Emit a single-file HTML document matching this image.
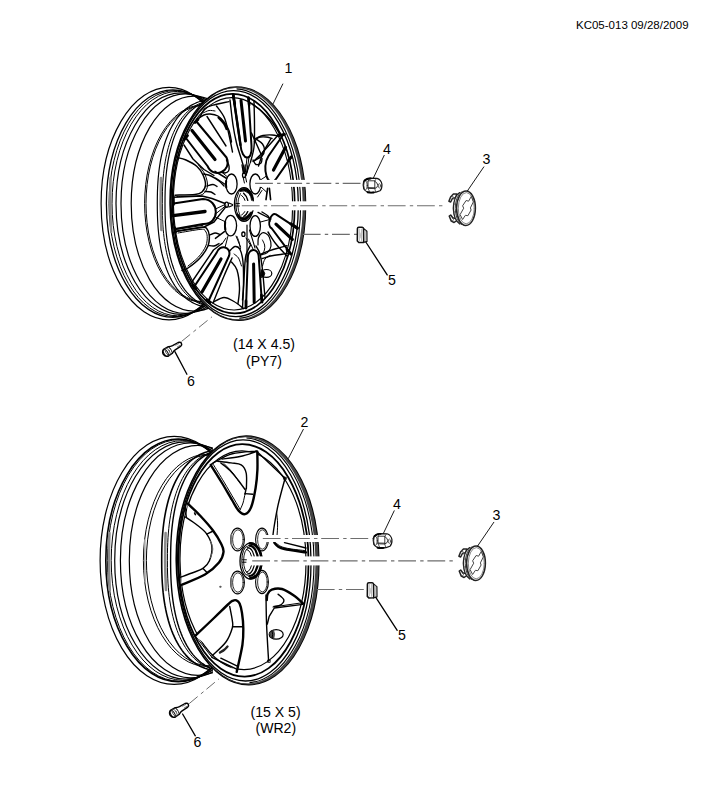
<!DOCTYPE html>
<html><head><meta charset="utf-8"><title>KC05-013</title>
<style>
html,body{margin:0;padding:0;background:#fff;}
body{width:708px;height:800px;overflow:hidden;font-family:"Liberation Sans",sans-serif;}
svg{display:block;}
svg text{font-family:"Liberation Sans",sans-serif;}
</style></head><body>
<svg width="708" height="800" viewBox="0 0 708 800" stroke-linecap="round" stroke-linejoin="round">
<rect x="0" y="0" width="708" height="800" fill="#fff"/>
<g id="wheel1">
<clipPath id="c1"><rect x="90" y="70" width="124" height="270"/></clipPath>
<g clip-path="url(#c1)">
<ellipse cx="169.02" cy="203.6" rx="67.92" ry="116.3" fill="none" stroke="#000" stroke-width="1.2" />
<ellipse cx="172.86" cy="203.6" rx="66.46" ry="113.8" fill="none" stroke="#000" stroke-width="1.3" />
<ellipse cx="174.99" cy="203.6" rx="65.99" ry="113" fill="none" stroke="#000" stroke-width="1" />
<ellipse cx="177.52" cy="203.6" rx="65.52" ry="112.2" fill="none" stroke="#000" stroke-width="1" />
<ellipse cx="180.71" cy="203.6" rx="64.71" ry="110.8" fill="none" stroke="#000" stroke-width="1.2" />
<ellipse cx="185.12" cy="203.6" rx="64.12" ry="109.8" fill="none" stroke="#000" stroke-width="1.2" />
<ellipse cx="193.98" cy="203.6" rx="62.78" ry="107.5" fill="none" stroke="#000" stroke-width="1.2" />
<ellipse cx="202.12" cy="203.6" rx="57.52" ry="98.5" fill="none" stroke="#000" stroke-width="1" />
<ellipse cx="203.23" cy="203.6" rx="57.23" ry="98" fill="none" stroke="#000" stroke-width="1" />
</g>
<clipPath id="c1b"><rect x="90" y="70" width="113.5" height="270"/></clipPath>
<g clip-path="url(#c1b)">
<path d="M215,99.6 L211.33,99.67 L208.39,99.87 L205.67,100.21 L203.1,100.69 L200.64,101.3 L198.27,102.05 L195.98,102.93 L193.76,103.95 L191.61,105.1 L189.52,106.38 L187.5,107.79 L185.54,109.33 L183.63,111 L181.79,112.79 L180.01,114.72 L178.29,116.76 L176.63,118.93 L175.04,121.22 L173.51,123.64 L172.04,126.17 L170.64,128.81 L169.3,131.57 L168.03,134.45 L166.82,137.44 L165.69,140.53 L164.62,143.74 L163.62,147.06 L162.7,150.49 L161.84,154.03 L161.06,157.68 L160.35,161.44 L159.71,165.32 L159.15,169.32 L158.66,173.45 L158.24,177.72 L157.91,182.15 L157.64,186.79 L157.45,191.68 L157.34,196.99 L157.3,203.6 L157.34,210.21 L157.45,215.52 L157.64,220.41 L157.91,225.05 L158.24,229.48 L158.66,233.75 L159.15,237.88 L159.71,241.88 L160.35,245.76 L161.06,249.52 L161.84,253.17 L162.7,256.71 L163.62,260.14 L164.62,263.46 L165.69,266.67 L166.82,269.76 L168.03,272.75 L169.3,275.63 L170.64,278.39 L172.04,281.03 L173.51,283.56 L175.04,285.98 L176.63,288.27 L178.29,290.44 L180.01,292.48 L181.79,294.41 L183.63,296.2 L185.54,297.87 L187.5,299.41 L189.52,300.82 L191.61,302.1 L193.76,303.25 L195.98,304.27 L198.27,305.15 L200.64,305.9 L203.1,306.51 L205.67,306.99 L208.39,307.33 L211.33,307.53 L215,307.6" fill="none" stroke="#000" stroke-width="1.2" />
<path d="M217,100.6 L213.52,100.67 L210.73,100.87 L208.16,101.21 L205.72,101.68 L203.39,102.29 L201.14,103.03 L198.97,103.9 L196.87,104.91 L194.83,106.04 L192.85,107.31 L190.93,108.71 L189.07,110.24 L187.26,111.89 L185.52,113.67 L183.83,115.57 L182.2,117.6 L180.63,119.75 L179.12,122.02 L177.66,124.4 L176.27,126.91 L174.94,129.53 L173.67,132.27 L172.47,135.11 L171.33,138.07 L170.25,141.14 L169.24,144.32 L168.3,147.61 L167.42,151 L166.61,154.51 L165.86,158.12 L165.19,161.85 L164.59,165.69 L164.05,169.65 L163.59,173.74 L163.2,177.97 L162.87,182.36 L162.62,186.95 L162.44,191.79 L162.34,197.05 L162.3,203.6 L162.34,210.15 L162.44,215.41 L162.62,220.25 L162.87,224.84 L163.2,229.23 L163.59,233.46 L164.05,237.55 L164.59,241.51 L165.19,245.35 L165.86,249.08 L166.61,252.69 L167.42,256.2 L168.3,259.59 L169.24,262.88 L170.25,266.06 L171.33,269.13 L172.47,272.09 L173.67,274.93 L174.94,277.67 L176.27,280.29 L177.66,282.8 L179.12,285.18 L180.63,287.45 L182.2,289.6 L183.83,291.63 L185.52,293.53 L187.26,295.31 L189.07,296.96 L190.93,298.49 L192.85,299.89 L194.83,301.16 L196.87,302.29 L198.97,303.3 L201.14,304.17 L203.39,304.91 L205.72,305.52 L208.16,305.99 L210.73,306.33 L213.52,306.53 L217,306.6" fill="none" stroke="#000" stroke-width="1" />
<path d="M219,100.6 L215.57,100.67 L212.81,100.87 L210.27,101.21 L207.86,101.68 L205.56,102.29 L203.34,103.03 L201.2,103.9 L199.12,104.91 L197.11,106.04 L195.16,107.31 L193.26,108.71 L191.42,110.24 L189.64,111.89 L187.92,113.67 L186.25,115.57 L184.65,117.6 L183.09,119.75 L181.6,122.02 L180.17,124.4 L178.79,126.91 L177.48,129.53 L176.23,132.27 L175.04,135.11 L173.91,138.07 L172.85,141.14 L171.85,144.32 L170.92,147.61 L170.05,151 L169.25,154.51 L168.52,158.12 L167.85,161.85 L167.26,165.69 L166.73,169.65 L166.27,173.74 L165.88,177.97 L165.57,182.36 L165.32,186.95 L165.14,191.79 L165.04,197.05 L165,203.6 L165.04,210.15 L165.14,215.41 L165.32,220.25 L165.57,224.84 L165.88,229.23 L166.27,233.46 L166.73,237.55 L167.26,241.51 L167.85,245.35 L168.52,249.08 L169.25,252.69 L170.05,256.2 L170.92,259.59 L171.85,262.88 L172.85,266.06 L173.91,269.13 L175.04,272.09 L176.23,274.93 L177.48,277.67 L178.79,280.29 L180.17,282.8 L181.6,285.18 L183.09,287.45 L184.65,289.6 L186.25,291.63 L187.92,293.53 L189.64,295.31 L191.42,296.96 L193.26,298.49 L195.16,299.89 L197.11,301.16 L199.12,302.29 L201.2,303.3 L203.34,304.17 L205.56,304.91 L207.86,305.52 L210.27,305.99 L212.81,306.33 L215.57,306.53 L219,306.6" fill="none" stroke="#000" stroke-width="1.2" />
</g>
<path d="M110.6,178 Q109.6,203 111.2,232" fill="none" stroke="#8a8a8a" stroke-width="2.4" />
<path d="M161,178 Q159.9,203 161.4,230" fill="none" stroke="#8a8a8a" stroke-width="2.6" />
<ellipse cx="237.8" cy="203.6" rx="67.7" ry="116.6" fill="#fff" stroke="#000" stroke-width="1.6" transform="rotate(-0.7 237.8 203.6)" />
<path d="M170.1,203.6 a67.7,116.6 0 1 0 135.4,0 a67.7,116.6 0 1 0 -135.4,0 Z M170.1,203.6 a66.3,115.67 0 1 0 132.6,0 a66.3,115.67 0 1 0 -132.6,0 Z" fill="#444" fill-rule="evenodd" stroke="none" transform="rotate(-0.7 237.8 203.6)"/>
<clipPath id="rh1"><rect x="238" y="70" width="100" height="270"/></clipPath>
<ellipse cx="235.6" cy="203.6" rx="65" ry="114.8" fill="none" stroke="#000" stroke-width="1.1" transform="rotate(-0.7 235.6 203.6)" clip-path="url(#rh1)"/>
<ellipse cx="234.7" cy="203.6" rx="63.6" ry="113" fill="none" stroke="#000" stroke-width="1.3" transform="rotate(-0.7 234.7 203.6)" />
<ellipse cx="233.6" cy="203.6" rx="61.1" ry="109.8" fill="none" stroke="#000" stroke-width="1.7" transform="rotate(-0.7 233.6 203.6)" />
<ellipse cx="233" cy="203.8" rx="59.6" ry="106.2" fill="none" stroke="#000" stroke-width="1.1" transform="rotate(-0.7 233 203.8)" />
<path d="M233.2,95 L240.5,145 C241.83,161 252.83,162 251.5,146 L248.5,98" fill="none" stroke="#000" stroke-width="2" />
<line x1="241" y1="100.5" x2="245.5" y2="141" stroke="#000" stroke-width="3" />
<line x1="233.2" y1="95" x2="240.5" y2="145" stroke="#000" stroke-width="2.4" />
<line x1="233.2" y1="94.5" x2="234.8" y2="104" stroke="#000" stroke-width="2.6" />
<line x1="248.4" y1="97.5" x2="249.2" y2="105" stroke="#000" stroke-width="2.6" />
<path d="M230,100 C230.5,104.17 231.92,117.83 233,125 C234.08,132.17 235.17,137.5 236.5,143 C237.83,148.5 239.75,153.83 241,158 C242.25,162.17 243.5,166.33 244,168" fill="none" stroke="#000" stroke-width="1.4" />
<path d="M254,101 C254.08,105 254.5,117.33 254.5,125 C254.5,132.67 254.67,140.83 254,147 C253.33,153.17 251.08,159.5 250.5,162" fill="none" stroke="#000" stroke-width="1.4" />
<line x1="247" y1="157.5" x2="245.5" y2="172" stroke="#000" stroke-width="1" />
<line x1="249" y1="157" x2="247" y2="172" stroke="#000" stroke-width="1" />
<path d="M185.5,137.5 L207.5,166 C213.5,179.67 232.5,171.17 226.5,157.5 L196,121" fill="none" stroke="#000" stroke-width="2" />
<line x1="192" y1="130.5" x2="215" y2="159.5" stroke="#000" stroke-width="3.2" />
<line x1="207" y1="116.5" x2="226" y2="146" stroke="#000" stroke-width="1.4" />
<path d="M196.5,119.5 C197.75,118.75 201.75,115.92 204,115 C206.25,114.08 207.67,113.83 210,114 C212.33,114.17 215.67,114.67 218,116 C220.33,117.33 222.17,119.58 224,122 C225.83,124.42 227.75,127.17 229,130.5 C230.25,133.83 231.08,140.08 231.5,142" fill="none" stroke="#000" stroke-width="1.4" />
<path d="M218.5,117.5 C219.42,118.5 222.67,121.58 224,123.5 C225.33,125.42 226.08,128.08 226.5,129" fill="none" stroke="#000" stroke-width="2.2" />
<line x1="184.3" y1="139.3" x2="187.5" y2="135.5" stroke="#000" stroke-width="2.8" />
<line x1="195" y1="122.5" x2="198" y2="119.5" stroke="#000" stroke-width="2.8" />
<path d="M184,145 L193,159 L204,169.5 L214,175.5" fill="none" stroke="#000" stroke-width="1.4" />
<path d="M221.5,172 C222.08,172.17 223.83,173.17 225,173 C226.17,172.83 227.83,172.17 228.5,171 C229.17,169.83 229.33,167.83 229,166 C228.67,164.17 226.92,161 226.5,160" fill="none" stroke="#000" stroke-width="1.4" />
<path d="M173.5,203.5 L203,199 C220.07,199.67 220.07,224.67 203,224 L175,229" fill="none" stroke="#000" stroke-width="2" />
<line x1="173.2" y1="215.6" x2="205" y2="211.5" stroke="#000" stroke-width="3.4" />
<path d="M173.5,197.2 L202,196 L212,198.5 L225,203.5" fill="none" stroke="#000" stroke-width="1.4" />
<path d="M176,231.6 L204,227 L214,222 L226,206.5" fill="none" stroke="#000" stroke-width="1.4" />
<line x1="215.5" y1="209" x2="225" y2="204.5" stroke="#000" stroke-width="1" />
<line x1="215.5" y1="214" x2="226" y2="205.5" stroke="#000" stroke-width="1" />
<line x1="173.4" y1="197" x2="173.6" y2="204.5" stroke="#000" stroke-width="2.6" />
<line x1="174.6" y1="227.5" x2="175.6" y2="232.5" stroke="#000" stroke-width="2.6" />
<line x1="176" y1="229.5" x2="203" y2="225.3" stroke="#000" stroke-width="1" />
<path d="M194,287 L216.5,253 C219.5,243.67 232,246.67 229,256 L208.5,301" fill="none" stroke="#000" stroke-width="2" />
<line x1="221" y1="259" x2="202" y2="292" stroke="#000" stroke-width="3.2" />
<path d="M190.5,284 L213.5,250 L222,243.5" fill="none" stroke="#000" stroke-width="1.4" />
<path d="M232,258 C230.67,261 227.17,268.5 224,276 C220.83,283.5 214.83,298.5 213,303" fill="none" stroke="#000" stroke-width="1.4" />
<line x1="192.6" y1="285.2" x2="196" y2="288.8" stroke="#000" stroke-width="2.8" />
<line x1="206.8" y1="300" x2="210" y2="302.6" stroke="#000" stroke-width="2.8" />
<path d="M246,307.3 L247.8,258 C247.93,247.33 258.93,247.33 258.8,258 L261.8,301" fill="none" stroke="#000" stroke-width="2" />
<line x1="253.6" y1="264" x2="254.2" y2="302.5" stroke="#000" stroke-width="3" />
<path d="M242.5,308 C242.83,301.67 243.92,278.83 244.5,270 C245.08,261.17 245,259.17 246,255 C247,250.83 249.75,246.67 250.5,245" fill="none" stroke="#000" stroke-width="1.4" />
<path d="M265,298 C264.58,293.33 263.33,277.33 262.5,270 C261.67,262.67 261.08,258 260,254 C258.92,250 256.67,247.33 256,246" fill="none" stroke="#000" stroke-width="1.4" />
<line x1="246" y1="301" x2="246" y2="308" stroke="#000" stroke-width="2.8" />
<line x1="261.4" y1="295" x2="262" y2="302" stroke="#000" stroke-width="2.8" />
<path d="M296.2,227.6 L276,214.4 C270.53,211.8 266.33,225.9 271.8,228.5 L289.8,252.7" fill="none" stroke="#000" stroke-width="2" />
<line x1="276" y1="224.2" x2="292.3" y2="239.3" stroke="#000" stroke-width="3.2" />
<line x1="291" y1="224" x2="297.4" y2="228.2" stroke="#000" stroke-width="3.2" />
<line x1="287" y1="249.5" x2="290.8" y2="254" stroke="#000" stroke-width="2.8" />
<path d="M268,232 C269.33,234 272.83,240 276,244 C279.17,248 285.17,254 287,256" fill="none" stroke="#000" stroke-width="1.4" />
<path d="M283,135 L268.5,156 C260.83,167.33 268.33,190.33 276,179 L291,157.4" fill="none" stroke="#000" stroke-width="2" />
<line x1="285.5" y1="147.5" x2="273.5" y2="170" stroke="#000" stroke-width="3.2" />
<line x1="279.2" y1="135.4" x2="284.4" y2="134.4" stroke="#000" stroke-width="3" />
<line x1="288.5" y1="160.2" x2="291.5" y2="156.8" stroke="#000" stroke-width="2.8" />
<path d="M280,133 L263,152 L258.5,166" fill="none" stroke="#000" stroke-width="1.4" />
<line x1="267.6" y1="188.4" x2="266" y2="199.6" stroke="#000" stroke-width="1.6" />
<line x1="269.4" y1="188.4" x2="270.6" y2="199.6" stroke="#000" stroke-width="1.6" />
<line x1="260.5" y1="186.5" x2="267" y2="192.5" stroke="#000" stroke-width="1" />
<path d="M175,195.2 C178.33,195.08 190.5,195.03 195,194.5 C199.5,193.97 200.25,193.58 202,192 C203.75,190.42 205.33,187.83 205.5,185 C205.67,182.17 204.42,178.08 203,175 C201.58,171.92 199.83,169 197,166.5 C194.17,164 189.33,161.5 186,160 C182.67,158.5 178.5,157.92 177,157.5" fill="none" stroke="#000" stroke-width="1.5" />
<path d="M177,196.6 C180.17,196.5 191.5,196.55 196,196 C200.5,195.45 202.08,195.05 204,193.3 C205.92,191.55 207.33,188.63 207.5,185.5 C207.67,182.37 206.5,177.92 205,174.5 C203.5,171.08 199.58,166.58 198.5,165" fill="none" stroke="#000" stroke-width="1" />
<path d="M207,186 C208,185.75 211.33,184.42 213,184.5 C214.67,184.58 216.33,186.17 217,186.5" fill="none" stroke="#000" stroke-width="1.4" />
<path d="M205,191.5 C206,191.58 209.33,191.5 211,192 C212.67,192.5 214.33,194.08 215,194.5" fill="none" stroke="#000" stroke-width="1.4" />
<path d="M203.5,174 C204.75,174.33 208.42,174.83 211,176 C213.58,177.17 216.83,179.33 219,181 C221.17,182.67 223.17,185.17 224,186" fill="none" stroke="#000" stroke-width="1.4" />
<path d="M176.5,231.2 C180.75,230.53 196.92,227.57 202,227.2 C207.08,226.83 205.78,227.62 207,229 C208.22,230.38 209.13,232.67 209.3,235.5 C209.47,238.33 209.55,242.25 208,246 C206.45,249.75 203.33,254.33 200,258 C196.67,261.67 191,265.92 188,268 C185,270.08 183,270.08 182,270.5" fill="none" stroke="#000" stroke-width="1.5" />
<path d="M178,233 C181.83,232.38 196.45,229.63 201,229.3 C205.55,228.97 204.27,229.8 205.3,231 C206.33,232.2 207.12,234 207.2,236.5 C207.28,239 207.25,242.58 205.8,246 C204.35,249.42 201.47,253.67 198.5,257 C195.53,260.33 189.75,264.5 188,266" fill="none" stroke="#000" stroke-width="1" />
<path d="M209.5,235 C210.42,234.67 213.25,233.08 215,233 C216.75,232.92 219.17,234.25 220,234.5" fill="none" stroke="#000" stroke-width="1.4" />
<path d="M208.5,245.5 C209.42,245.58 212.25,246.33 214,246 C215.75,245.67 218.17,243.92 219,243.5" fill="none" stroke="#000" stroke-width="1.4" />
<path d="M199.5,118 C200.42,116.42 202.75,110.63 205,108.5 C207.25,106.37 209,106.35 213,105.2 C217,104.05 226.33,102.2 229,101.6" fill="none" stroke="#000" stroke-width="1.4" />
<path d="M216.5,106 C217.83,108 222.42,113.17 224.5,118 C226.58,122.83 227.67,129.33 229,135 C230.33,140.67 231.92,149.17 232.5,152" fill="none" stroke="#000" stroke-width="1.4" />
<path d="M203,113 C204,112.58 207,110.83 209,110.5 C211,110.17 214,110.92 215,111" fill="none" stroke="#000" stroke-width="1" />
<path d="M250.5,103 C252.42,104.42 258.42,108.33 262,111.5 C265.58,114.67 269,118.17 272,122 C275,125.83 278.67,132.42 280,134.5" fill="none" stroke="#000" stroke-width="1.4" />
<path d="M255.5,138.5 C256.75,138 260.25,136.08 263,135.5 C265.75,134.92 269.25,134.83 272,135 C274.75,135.17 278.25,136.25 279.5,136.5" fill="none" stroke="#000" stroke-width="1.4" />
<path d="M254.5,141.5 C255.17,140.83 256.58,138.25 258.5,137.5 C260.42,136.75 263.75,136.83 266,137 C268.25,137.17 271,138.25 272,138.5" fill="none" stroke="#000" stroke-width="1.4" />
<line x1="251.5" y1="133" x2="261" y2="154" stroke="#000" stroke-width="1.4" />
<path d="M256,139 C257.08,139.83 261.08,142.17 262.5,144 C263.92,145.83 264.58,148 264.5,150 C264.42,152 263.92,154.08 262,156 C260.08,157.92 254.5,160.58 253,161.5" fill="none" stroke="#000" stroke-width="1.4" />
<path d="M271,138.5 C269.67,140.75 265.67,148.42 263,152 C260.33,155.58 256.33,158.67 255,160" fill="none" stroke="#000" stroke-width="1.4" />
<path d="M253,160 C253.5,160.75 254.67,164 256,164.5 C257.33,165 260,164 261,163 C262,162 261.83,159.25 262,158.5" fill="none" stroke="#000" stroke-width="1.4" />
<path d="M229.5,251 C230.42,250.25 233.25,246.75 235,246.5 C236.75,246.25 238.67,246.92 240,249.5 C241.33,252.08 242.42,256.08 243,262 C243.58,267.92 243.58,278.67 243.5,285 C243.42,291.33 242.67,297.5 242.5,300" fill="none" stroke="#000" stroke-width="1.4" />
<path d="M231.5,262 C232.42,263.33 235.67,265.67 237,270 C238.33,274.33 239.33,282.42 239.5,288 C239.67,293.58 238.25,300.92 238,303.5" fill="none" stroke="#000" stroke-width="1.4" />
<path d="M213.5,302 C215.25,301.25 220.58,297.58 224,297.5 C227.42,297.42 230.75,299.67 234,301.5 C237.25,303.33 241.92,307.33 243.5,308.5" fill="none" stroke="#000" stroke-width="1.4" />
<path d="M234,254 C234.75,254.67 237.25,256 238.5,258 C239.75,260 241,264.67 241.5,266" fill="none" stroke="#000" stroke-width="1" />
<path d="M262,258.6 C263.67,258.13 268.67,256.53 272,255.8 C275.33,255.07 279.08,254.7 282,254.2 C284.92,253.7 288.25,253.03 289.5,252.8" fill="none" stroke="#000" stroke-width="1.4" />
<path d="M261,254 C262.5,253.43 266.83,251.67 270,250.6 C273.17,249.53 277.17,248.43 280,247.6 C282.83,246.77 285.83,245.93 287,245.6" fill="none" stroke="#000" stroke-width="1.4" />
<path d="M262.5,266 C262.92,264.83 263.75,260.75 265,259 C266.25,257.25 269.17,256.08 270,255.5" fill="none" stroke="#000" stroke-width="1" />
<ellipse cx="266.4" cy="273.4" rx="5.4" ry="3.9" fill="none" stroke="#000" stroke-width="1.2" />
<path d="M261.3,270 L261.3,277.6 Q264.2,277.6 264.8,273.6 Q264.2,270 261.3,270Z" fill="#000" stroke="#000" stroke-width="0.8" />
<path d="M262,212 C263,212.67 266.67,214.5 268,216 C269.33,217.5 269.67,220.17 270,221" fill="none" stroke="#000" stroke-width="1.4" />
<ellipse cx="231.5" cy="184" rx="5.6" ry="10" fill="#fff" stroke="#000" stroke-width="1.3" />
<ellipse cx="255.3" cy="184" rx="5.4" ry="10" fill="#fff" stroke="#000" stroke-width="1.3" />
<ellipse cx="230.6" cy="225.6" rx="6" ry="10.2" fill="#fff" stroke="#000" stroke-width="1.3" />
<ellipse cx="255.2" cy="226" rx="5.2" ry="10.4" fill="#fff" stroke="#000" stroke-width="1.3" />
<path d="M226.2,181 Q225.6,184 226.3,187.5" fill="none" stroke="#000" stroke-width="2" />
<path d="M225.2,222 Q224.6,226 225.4,229.5" fill="none" stroke="#000" stroke-width="2" />
<line x1="221.5" y1="172" x2="227" y2="176.5" stroke="#000" stroke-width="1" />
<line x1="244" y1="168" x2="244" y2="172.5" stroke="#000" stroke-width="1" />
<line x1="250.5" y1="162" x2="246.5" y2="174" stroke="#000" stroke-width="1" />
<line x1="225" y1="247.5" x2="228" y2="236" stroke="#000" stroke-width="1" />
<line x1="253.4" y1="250" x2="248.5" y2="239" stroke="#000" stroke-width="1" />
<line x1="250.5" y1="245" x2="246" y2="238" stroke="#000" stroke-width="1" />
<line x1="269.8" y1="219.5" x2="260.5" y2="222" stroke="#000" stroke-width="1" />
<line x1="266.5" y1="176" x2="260.5" y2="180" stroke="#000" stroke-width="1" />
<line x1="236" y1="236" x2="240.5" y2="247" stroke="#000" stroke-width="1" />
<line x1="226" y1="238" x2="222" y2="244" stroke="#000" stroke-width="1" />
<line x1="242" y1="165" x2="243.4" y2="173.4" stroke="#000" stroke-width="1.3" />
<line x1="245.2" y1="165" x2="244.6" y2="173.4" stroke="#000" stroke-width="1.3" />
<line x1="248" y1="166" x2="246" y2="175.5" stroke="#000" stroke-width="1.3" />
<line x1="243.2" y1="177.6" x2="244.4" y2="183" stroke="#000" stroke-width="1" />
<line x1="245.6" y1="177.4" x2="246.6" y2="182" stroke="#000" stroke-width="1" />
<line x1="215" y1="171.4" x2="226.4" y2="178.2" stroke="#000" stroke-width="1.6" />
<line x1="215.6" y1="178" x2="225.4" y2="184.4" stroke="#000" stroke-width="1.2" />
<line x1="215.4" y1="238.4" x2="224.4" y2="231.6" stroke="#000" stroke-width="1.4" />
<line x1="216" y1="217.4" x2="224.6" y2="221.4" stroke="#000" stroke-width="1" />
<line x1="258" y1="212.4" x2="271" y2="219" stroke="#000" stroke-width="1.3" />
<line x1="257.6" y1="197" x2="262" y2="190.4" stroke="#000" stroke-width="1" />
<ellipse cx="244" cy="175.2" rx="1.5" ry="2.3" fill="none" stroke="#000" stroke-width="1.3" />
<ellipse cx="226.6" cy="204.8" rx="1.8" ry="2.6" fill="none" stroke="#000" stroke-width="1.3" />
<ellipse cx="243.4" cy="234.2" rx="1.6" ry="2.2" fill="none" stroke="#000" stroke-width="1.3" />
<line x1="243.2" y1="168" x2="243.6" y2="173" stroke="#000" stroke-width="1" />
<line x1="245.3" y1="169" x2="245" y2="173.5" stroke="#000" stroke-width="1" />
<line x1="247" y1="225" x2="247" y2="262" stroke="#000" stroke-width="1.2" />
<path d="M249.5,230 C249.92,231.33 251.08,235 252,238 C252.92,241 254.5,246.33 255,248" fill="none" stroke="#000" stroke-width="1.1" />
<path d="M258,245 C258.07,243.83 257.73,240 258.4,238 C259.07,236 260.73,233.73 262,233 C263.27,232.27 264.77,232.87 266,233.6 C267.23,234.33 268.57,235.33 269.4,237.4 C270.23,239.47 271.33,243.47 271,246 C270.67,248.53 269.23,251.1 267.4,252.6 C265.57,254.1 261.23,254.6 260,255" fill="none" stroke="#000" stroke-width="1.2" />
<path d="M262.4,240 C262.77,240.83 264.27,243.33 264.6,245 C264.93,246.67 264.83,248.33 264.4,250 C263.97,251.67 262.4,254.17 262,255" fill="none" stroke="#000" stroke-width="1" />
<path d="M237,236.5 C237.33,237.42 238.42,239.92 239,242 C239.58,244.08 240.25,247.83 240.5,249" fill="none" stroke="#000" stroke-width="1" />
<line x1="229" y1="203" x2="232.5" y2="204.5" stroke="#000" stroke-width="1.2" />
<line x1="229" y1="207" x2="232.5" y2="205.5" stroke="#000" stroke-width="1.2" />
<ellipse cx="244" cy="204.5" rx="9.6" ry="16.8" fill="#fff" stroke="#000" stroke-width="1.2" />
<path d="M238.8,190.6 Q245,185.6 250.6,191.4 Q253.2,195 253.5,199.4 L251.6,200.4 Q251,196 248.8,193.4 Q245,189.6 240.4,191.4 Z" fill="#000" stroke="#000" stroke-width="0.8" />
<path d="M237.2,214.6 Q238.4,219.4 243,220.4 Q248.4,220.6 252.6,212 L250.6,212 Q247.4,217.4 243,217.6 Q239.8,217.4 238.6,214.6 Z" fill="#000" stroke="#000" stroke-width="0.8" />
<path d="M243.6,193.2 Q247.2,196.4 247.8,200.4" fill="none" stroke="#000" stroke-width="1.4" />
<path d="M241.6,195.4 Q244.4,197.6 245,200.4" fill="none" stroke="#000" stroke-width="1" />
<path d="M247.8,211.6 Q246.6,215 243.8,216.4" fill="none" stroke="#000" stroke-width="1.4" />
<path d="M244.8,211.6 Q243.6,214 241.6,215" fill="none" stroke="#000" stroke-width="1" />
<path d="M238.6,192.6 Q235.6,199 235.8,205 Q236,212 238.6,216.6" fill="none" stroke="#000" stroke-width="1" />
<path d="M240.4,193.6 Q237.6,199 237.8,205 Q238,211 240,215.6" fill="none" stroke="#000" stroke-width="0.9" />
<line x1="236" y1="203.6" x2="240" y2="203.6" stroke="#000" stroke-width="1" />
<line x1="236" y1="206" x2="239.6" y2="206" stroke="#000" stroke-width="1" />
</g>
<g id="wheel2">
<clipPath id="c2"><rect x="90" y="420" width="123" height="280"/></clipPath>
<g clip-path="url(#c2)">
<ellipse cx="174.13" cy="560.4" rx="74.03" ry="124" fill="none" stroke="#000" stroke-width="1.2" />
<ellipse cx="178.28" cy="560.4" rx="72.48" ry="121.4" fill="none" stroke="#000" stroke-width="1.6" />
<ellipse cx="179.52" cy="560.4" rx="72.12" ry="120.8" fill="none" stroke="#000" stroke-width="1" />
<ellipse cx="182.72" cy="560.4" rx="71.52" ry="119.8" fill="none" stroke="#000" stroke-width="1" />
<ellipse cx="185.5" cy="560.4" rx="70.8" ry="118.6" fill="none" stroke="#000" stroke-width="1.2" />
<ellipse cx="190.49" cy="560.4" rx="70.09" ry="117.4" fill="none" stroke="#000" stroke-width="1.2" />
<ellipse cx="197.96" cy="560.4" rx="68.66" ry="115" fill="none" stroke="#000" stroke-width="1.2" />
<ellipse cx="206.68" cy="560.4" rx="63.28" ry="106" fill="none" stroke="#000" stroke-width="1" />
<ellipse cx="209.32" cy="560.4" rx="62.92" ry="105.4" fill="none" stroke="#000" stroke-width="1" />
</g>
<clipPath id="c2b"><rect x="90" y="420" width="120" height="280"/></clipPath>
<g clip-path="url(#c2b)">
<path d="M222.5,449.9 L218.63,449.97 L215.53,450.19 L212.67,450.55 L209.96,451.06 L207.37,451.71 L204.87,452.5 L202.46,453.44 L200.12,454.52 L197.85,455.74 L195.65,457.1 L193.52,458.6 L191.45,460.24 L189.45,462.01 L187.51,463.92 L185.63,465.96 L183.82,468.14 L182.07,470.44 L180.39,472.88 L178.78,475.44 L177.23,478.13 L175.75,480.94 L174.34,483.87 L173,486.93 L171.73,490.1 L170.54,493.39 L169.41,496.8 L168.36,500.33 L167.39,503.97 L166.49,507.73 L165.66,511.61 L164.91,515.61 L164.24,519.73 L163.65,523.98 L163.13,528.36 L162.7,532.9 L162.34,537.61 L162.06,542.53 L161.86,547.73 L161.74,553.37 L161.7,560.4 L161.74,567.43 L161.86,573.07 L162.06,578.27 L162.34,583.19 L162.7,587.9 L163.13,592.44 L163.65,596.82 L164.24,601.07 L164.91,605.19 L165.66,609.19 L166.49,613.07 L167.39,616.83 L168.36,620.47 L169.41,624 L170.54,627.41 L171.73,630.7 L173,633.87 L174.34,636.93 L175.75,639.86 L177.23,642.67 L178.78,645.36 L180.39,647.92 L182.07,650.36 L183.82,652.66 L185.63,654.84 L187.51,656.88 L189.45,658.79 L191.45,660.56 L193.52,662.2 L195.65,663.7 L197.85,665.06 L200.12,666.28 L202.46,667.36 L204.87,668.3 L207.37,669.09 L209.96,669.74 L212.67,670.25 L215.53,670.61 L218.63,670.83 L222.5,670.9" fill="none" stroke="#000" stroke-width="1.6" />
<path d="M226,450.4 L222.27,450.47 L219.28,450.69 L216.53,451.05 L213.92,451.55 L211.42,452.2 L209.01,452.99 L206.68,453.92 L204.43,455 L202.25,456.21 L200.13,457.57 L198.07,459.06 L196.08,460.69 L194.14,462.46 L192.27,464.36 L190.47,466.39 L188.72,468.55 L187.04,470.85 L185.42,473.27 L183.86,475.82 L182.37,478.5 L180.94,481.3 L179.58,484.22 L178.29,487.26 L177.07,490.42 L175.92,493.7 L174.83,497.09 L173.82,500.6 L172.88,504.23 L172.01,507.97 L171.22,511.83 L170.5,515.81 L169.85,519.91 L169.28,524.14 L168.78,528.51 L168.36,533.03 L168.01,537.72 L167.75,542.62 L167.55,547.79 L167.44,553.41 L167.4,560.4 L167.44,567.39 L167.55,573.01 L167.75,578.18 L168.01,583.08 L168.36,587.77 L168.78,592.29 L169.28,596.66 L169.85,600.89 L170.5,604.99 L171.22,608.97 L172.01,612.83 L172.88,616.57 L173.82,620.2 L174.83,623.71 L175.92,627.1 L177.07,630.38 L178.29,633.54 L179.58,636.58 L180.94,639.5 L182.37,642.3 L183.86,644.98 L185.42,647.53 L187.04,649.95 L188.72,652.25 L190.47,654.41 L192.27,656.44 L194.14,658.34 L196.08,660.11 L198.07,661.74 L200.13,663.23 L202.25,664.59 L204.43,665.8 L206.68,666.88 L209.01,667.81 L211.42,668.6 L213.92,669.25 L216.53,669.75 L219.28,670.11 L222.27,670.33 L226,670.4" fill="none" stroke="#000" stroke-width="1" />
<path d="M228,449.9 L224.35,449.97 L221.42,450.19 L218.72,450.55 L216.16,451.06 L213.72,451.71 L211.36,452.5 L209.08,453.44 L206.87,454.52 L204.73,455.74 L202.66,457.1 L200.64,458.6 L198.69,460.24 L196.8,462.01 L194.96,463.92 L193.19,465.96 L191.48,468.14 L189.83,470.44 L188.25,472.88 L186.72,475.44 L185.26,478.13 L183.87,480.94 L182.54,483.87 L181.27,486.93 L180.07,490.1 L178.94,493.39 L177.88,496.8 L176.89,500.33 L175.97,503.97 L175.12,507.73 L174.34,511.61 L173.63,515.61 L173,519.73 L172.44,523.98 L171.95,528.36 L171.54,532.9 L171.2,537.61 L170.94,542.53 L170.75,547.73 L170.64,553.37 L170.6,560.4 L170.64,567.43 L170.75,573.07 L170.94,578.27 L171.2,583.19 L171.54,587.9 L171.95,592.44 L172.44,596.82 L173,601.07 L173.63,605.19 L174.34,609.19 L175.12,613.07 L175.97,616.83 L176.89,620.47 L177.88,624 L178.94,627.41 L180.07,630.7 L181.27,633.87 L182.54,636.93 L183.87,639.86 L185.26,642.67 L186.72,645.36 L188.25,647.92 L189.83,650.36 L191.48,652.66 L193.19,654.84 L194.96,656.88 L196.8,658.79 L198.69,660.56 L200.64,662.2 L202.66,663.7 L204.73,665.06 L206.87,666.28 L209.08,667.36 L211.36,668.3 L213.72,669.09 L216.16,669.74 L218.72,670.25 L221.42,670.61 L224.35,670.83 L228,670.9" fill="none" stroke="#000" stroke-width="1.4" />
</g>
<path d="M109.4,533 Q108.3,560 109.8,590" fill="none" stroke="#8a8a8a" stroke-width="2.6" />
<path d="M144.9,540 Q144.3,560 145.2,582" fill="none" stroke="#aaa" stroke-width="1.6" />
<path d="M165.6,533 Q164.5,560 166,590" fill="none" stroke="#8a8a8a" stroke-width="2.6" />
<ellipse cx="247.5" cy="560.4" rx="71.2" ry="124.2" fill="#fff" stroke="#000" stroke-width="1.7" transform="rotate(-0.7 247.5 560.4)" />
<path d="M176.3,560.4 a71.2,124.2 0 1 0 142.4,0 a71.2,124.2 0 1 0 -142.4,0 Z M176.3,560.4 a69.55,123.1 0 1 0 139.1,0 a69.55,123.1 0 1 0 -139.1,0 Z" fill="#444" fill-rule="evenodd" stroke="none" transform="rotate(-0.7 247.5 560.4)"/>
<clipPath id="rh2"><rect x="248" y="420" width="100" height="290"/></clipPath>
<ellipse cx="245.5" cy="560.4" rx="68.5" ry="122.4" fill="none" stroke="#000" stroke-width="1.1" transform="rotate(-0.7 245.5 560.4)" clip-path="url(#rh2)"/>
<ellipse cx="244.3" cy="560.4" rx="66.7" ry="120.6" fill="none" stroke="#000" stroke-width="1.3" transform="rotate(-0.7 244.3 560.4)" />
<ellipse cx="243.5" cy="560.4" rx="65" ry="116.2" fill="none" stroke="#000" stroke-width="1.8" transform="rotate(-0.7 243.5 560.4)" />
<ellipse cx="243" cy="560.2" rx="63" ry="109.4" fill="none" stroke="#000" stroke-width="1.2" transform="rotate(-0.7 243 560.2)" />
<path d="M210.7,464.9 C212.58,467.92 218.45,477.15 222,483 C225.55,488.85 229.23,495.4 232,500 C234.77,504.6 236.43,508.23 238.6,510.6 C240.77,512.97 242.9,514.8 245,514.2 C247.1,513.6 249.43,511.37 251.2,507 C252.97,502.63 254.57,494.17 255.6,488 C256.63,481.83 257.12,476.07 257.4,470 C257.68,463.93 257.32,454.67 257.3,451.6" fill="#fff" stroke="#000" stroke-width="2.4" />
<path d="M213.4,464.6 C215.17,467.5 220.57,476.27 224,482 C227.43,487.73 231.33,494.5 234,499 C236.67,503.5 239,507.33 240,509" fill="none" stroke="#000" stroke-width="1" />
<path d="M211,464.6 C211.83,464.07 212.45,463.2 216,461.4 C219.55,459.6 225.47,455.53 232.3,453.8 C239.13,452.07 252.88,451.47 257,451" fill="none" stroke="#000" stroke-width="1.4" />
<path d="M217.6,461.2 C219.83,461.48 227.07,462.28 231,462.9 C234.93,463.52 238.67,463.2 241.2,464.9 C243.73,466.6 245.33,469.18 246.2,473.1 C247.07,477.02 246.37,485.85 246.4,488.4" fill="none" stroke="#000" stroke-width="1.4" />
<path d="M220.8,463 C222.33,464.25 227.13,467.67 230,470.5 C232.87,473.33 235.5,476.83 238,480 C240.5,483.17 243.83,487.92 245,489.5" fill="none" stroke="#000" stroke-width="1.4" />
<path d="M224,463.6 C225.33,465 229.33,468.77 232,472 C234.67,475.23 238.67,481.17 240,483" fill="none" stroke="#000" stroke-width="1" />
<line x1="245" y1="493.6" x2="252.8" y2="494.2" stroke="#000" stroke-width="1.4" />
<path d="M222,459 C225,458.58 234.25,457.75 240,456.5 C245.75,455.25 253.75,452.33 256.5,451.5" fill="none" stroke="#000" stroke-width="1.4" />
<line x1="246.2" y1="488.4" x2="245" y2="494" stroke="#000" stroke-width="1.4" />
<path d="M245,494 C244.67,495.5 243.83,500.33 243,503 C242.17,505.67 240.5,508.83 240,510" fill="none" stroke="#000" stroke-width="1" />
<path d="M187.8,503.6 C189.83,505.58 195.8,511.02 200,515.5 C204.2,519.98 209.5,525.83 213,530.5 C216.5,535.17 219.25,539.92 221,543.5 C222.75,547.08 223.83,548.83 223.5,552 C223.17,555.17 222.08,558.75 219,562.5 C215.92,566.25 211.33,570.75 205,574.5 C198.67,578.25 185,583.25 181,585" fill="#fff" stroke="#000" stroke-width="2.4" />
<path d="M185.2,516.9 C187.17,518.25 193.4,522.13 197,525 C200.6,527.87 204.32,530.47 206.8,534.1 C209.28,537.73 211.47,542.37 211.9,546.8 C212.33,551.23 210.88,557.1 209.4,560.7 C207.92,564.3 205.9,566.35 203,568.4 C200.1,570.45 195.77,571.52 192,573 C188.23,574.48 182.33,576.58 180.4,577.3" fill="none" stroke="#000" stroke-width="1.4" />
<line x1="206.8" y1="534.1" x2="213.2" y2="531" stroke="#000" stroke-width="1.4" />
<line x1="203" y1="568.4" x2="207" y2="572.4" stroke="#000" stroke-width="1.4" />
<path d="M210.4,541 C210.8,542.33 212.77,546.25 212.8,549 C212.83,551.75 210.97,556.08 210.6,557.5" fill="none" stroke="#666" stroke-width="1" />
<line x1="185" y1="505" x2="186.5" y2="517" stroke="#000" stroke-width="1" />
<line x1="194.6" y1="513" x2="195.4" y2="514.6" stroke="#000" stroke-width="1.6" />
<path d="M195.4,635.7 C198.5,632.75 208.48,623.28 214,618 C219.52,612.72 225.4,606.87 228.5,604 C231.6,601.13 231.28,601.4 232.6,600.8 C233.92,600.2 235.23,599.93 236.4,600.4 C237.57,600.87 238.67,601.5 239.6,603.6 C240.53,605.7 241.38,608.93 242,613 C242.62,617.07 243.23,622.67 243.3,628 C243.37,633.33 243.5,637.68 242.4,645 C241.3,652.32 237.65,667.42 236.7,671.9" fill="#fff" stroke="#000" stroke-width="2.4" />
<path d="M229.7,606.4 C230.13,608.73 231.87,616.8 232.3,620.4 C232.73,624 233.37,624.4 232.3,628 C231.23,631.6 229.3,637.33 225.9,642 C222.5,646.67 214.23,653.67 211.9,656" fill="none" stroke="#000" stroke-width="1.4" />
<line x1="232.9" y1="626.8" x2="242.6" y2="626.8" stroke="#000" stroke-width="1.4" />
<line x1="211.9" y1="657.3" x2="236.1" y2="668.9" stroke="#000" stroke-width="1.4" />
<line x1="220.8" y1="658.2" x2="237.3" y2="666.2" stroke="#000" stroke-width="1.4" />
<path d="M220,652.5 C220.67,652.08 222.75,651 224,650 C225.25,649 226.92,647.08 227.5,646.5" fill="none" stroke="#222" stroke-width="2.4" />
<line x1="195.8" y1="636.5" x2="211.9" y2="657.3" stroke="#000" stroke-width="1" />
<path d="M266.8,600 C266.93,599 266.77,595.73 267.6,594 C268.43,592.27 269.4,590.43 271.8,589.6 C274.2,588.77 278.2,587.93 282,589 C285.8,590.07 291.12,593.6 294.6,596 C298.08,598.4 301.52,602.17 302.9,603.4" fill="none" stroke="#000" stroke-width="2.4" />
<path d="M302.9,604.4 L274.3,608 L269.2,616.3 L267.3,624" fill="none" stroke="#000" stroke-width="1.4" />
<path d="M278.1,594.2 C279.05,595.13 283.33,598.03 283.8,599.8 C284.27,601.57 282.53,603.68 280.9,604.8 C279.27,605.92 275.15,606.22 274,606.5" fill="none" stroke="#000" stroke-width="1.4" />
<line x1="273" y1="607" x2="302" y2="602.8" stroke="#000" stroke-width="1" />
<path d="M266,595 C266.1,600 266.17,614 266.6,625 C267.03,636 268.27,655 268.6,661" fill="none" stroke="#000" stroke-width="1.4" />
<path d="M268,660 L270.2,660 L270.2,662.4 L268,662.4 Z" fill="none" stroke="#000" stroke-width="0.8" />
<ellipse cx="276.2" cy="634.4" rx="7" ry="4.8" fill="none" stroke="#000" stroke-width="1.2" />
<path d="M269.6,633.4 Q270.8,630.8 273.6,630.2 Q275.4,634 273.8,638.4 Q270.6,637.6 269.6,633.4 Z" fill="#555" stroke="#333" stroke-width="0.8" />
<path d="M272,631 Q273.4,634 272.2,637.8" fill="none" stroke="#000" stroke-width="1" />
<path d="M274.3,542.6 C274.92,543.23 276.3,545.33 278,546.4 C279.7,547.47 279.83,548 284.5,549 C289.17,550 302.42,551.83 306,552.4" fill="none" stroke="#000" stroke-width="2.4" />
<line x1="284.5" y1="542.6" x2="306" y2="548" stroke="#000" stroke-width="1.4" />
<path d="M276,543 C276.83,543.58 278.67,545.53 281,546.5 C283.33,547.47 286,548.12 290,548.8 C294,549.48 302.5,550.3 305,550.6" fill="none" stroke="#000" stroke-width="1" />
<path d="M285.1,478.2 C283.93,482.65 280.02,496.27 278.1,504.9 C276.18,513.53 274.52,524.07 273.6,530 C272.68,535.93 272.77,538.75 272.6,540.5" fill="none" stroke="#000" stroke-width="1.4" />
<line x1="257.4" y1="452" x2="285.1" y2="478.2" stroke="#000" stroke-width="1.4" />
<path d="M284.4,477 L286.6,477.6 L286,480 L283.8,479.4 Z" fill="none" stroke="#000" stroke-width="0.8" />
<path d="M276.6,512 C276.77,514 277.53,520 277.6,524 C277.67,528 277.1,534 277,536" fill="none" stroke="#000" stroke-width="1" />
<ellipse cx="220.3" cy="586.8" rx="0.7" ry="0.7" fill="#555" stroke="#555" stroke-width="0.8" />
<ellipse cx="237.5" cy="539.5" rx="6.9" ry="11.4" fill="#fff" stroke="#000" stroke-width="1.1" />
<ellipse cx="237.9" cy="539.5" rx="5.3" ry="9.7" fill="none" stroke="#000" stroke-width="0.8" />
<ellipse cx="262" cy="539.5" rx="6.4" ry="11.4" fill="#fff" stroke="#000" stroke-width="1.1" />
<ellipse cx="262.4" cy="539.5" rx="4.8" ry="9.7" fill="none" stroke="#000" stroke-width="0.8" />
<ellipse cx="237.5" cy="582.5" rx="6.9" ry="11.4" fill="#fff" stroke="#000" stroke-width="1.1" />
<ellipse cx="237.9" cy="582.5" rx="5.3" ry="9.7" fill="none" stroke="#000" stroke-width="0.8" />
<ellipse cx="262" cy="582" rx="6.4" ry="11.6" fill="#fff" stroke="#000" stroke-width="1.1" />
<ellipse cx="262.4" cy="582" rx="4.8" ry="9.9" fill="none" stroke="#000" stroke-width="0.8" />
<path d="M231.4,534.5 Q230.6,539.5 231.6,545" fill="none" stroke="#777" stroke-width="1.6" />
<path d="M231.4,577.5 Q230.6,582.5 231.6,588" fill="none" stroke="#777" stroke-width="1.6" />
<ellipse cx="251" cy="561" rx="11" ry="18.2" fill="#fff" stroke="#000" stroke-width="1.3" />
<path d="M250.2,543.4 A11.3,17.4 0 0 1 250.2,578.2" fill="none" stroke="#000" stroke-width="2.6" />
<path d="M249.2,545.6 A8.8,15.2 0 0 1 249.2,576" fill="none" stroke="#000" stroke-width="2.2" />
<path d="M247.6,547.6 A7,13.2 0 0 1 247.6,574" fill="none" stroke="#000" stroke-width="1.2" />
<path d="M246.4,549.4 A5.6,11.4 0 0 1 246.4,572.2" fill="none" stroke="#000" stroke-width="1" />
<path d="M247.4,546.2 A5.6,14.6 0 0 0 247.4,575.4" fill="none" stroke="#000" stroke-width="1" />
<path d="M248.2,548.2 A4.6,12.6 0 0 0 248.2,573.4" fill="none" stroke="#000" stroke-width="0.9" />
<line x1="242.4" y1="559.8" x2="246.4" y2="559.8" stroke="#000" stroke-width="1" />
<line x1="242.4" y1="562.2" x2="246" y2="562.2" stroke="#000" stroke-width="1" />
</g>
<rect x="254.6" y="179.9" width="74.9" height="7" fill="#fff"/>
<rect x="239.8" y="201.3" width="88.2" height="9" fill="#fff"/>
<line x1="255.1" y1="183.4" x2="363" y2="183.4" stroke="#6e6e6e" stroke-width="1.1" stroke-dasharray="17.8 4.2 3.4 3.8" stroke-linecap="butt"/>
<line x1="241.8" y1="205.8" x2="443.2" y2="205.8" stroke="#6e6e6e" stroke-width="1.1" stroke-dasharray="17.8 4.2 3.4 3.8" stroke-linecap="butt"/>
<line x1="302.8" y1="234.4" x2="357.2" y2="234.4" stroke="#6e6e6e" stroke-width="1.1" stroke-dasharray="17.8 4.2 3.4 3.8" stroke-linecap="butt"/>
<g transform="translate(0 0)">
<path d="M363.6,181.6 Q365.6,178.4 369.6,178.2 L377,178.4 Q381,179.6 381.9,184 Q382.3,188.6 380,190.8 Q376.6,192.6 371,192.7 Q366,192.4 363.8,189 Q362.6,185 363.6,181.6 Z" fill="#fff" stroke="#111" stroke-width="1.2" />
<ellipse cx="365.5" cy="185.4" rx="1.8" ry="4.4" fill="none" stroke="#222" stroke-width="0.9" />
<path d="M364.6,180.6 Q367,178.6 370.6,178.5" fill="none" stroke="#000" stroke-width="1.9" />
<path d="M367.6,192.3 Q370.4,192.9 373.6,192.5" fill="none" stroke="#000" stroke-width="1.9" />
<path d="M368,181.2 L368,188.4 L374.8,188.6 L374.8,181.2 Z" fill="none" stroke="#222" stroke-width="0.9" />
<line x1="368" y1="187.6" x2="374.8" y2="187.8" stroke="#222" stroke-width="0.9" />
<line x1="368" y1="181.2" x2="369.6" y2="179" stroke="#333" stroke-width="0.8" />
<line x1="374.8" y1="181.2" x2="376" y2="179.2" stroke="#333" stroke-width="0.8" />
<line x1="368" y1="188.4" x2="369.6" y2="191.6" stroke="#333" stroke-width="0.8" />
<line x1="374.8" y1="188.6" x2="375.6" y2="191.6" stroke="#333" stroke-width="0.8" />
<path d="M374.8,181.2 Q377.6,182.6 377.8,185.4 Q377.4,188 374.8,188.6" fill="none" stroke="#222" stroke-width="0.9" />
<ellipse cx="379.4" cy="185.8" rx="1.1" ry="2.2" fill="none" stroke="#444" stroke-width="0.8" />
</g>
<g transform="translate(0 0)">
<path d="M457,194 L453.4,194 L450.6,196.9 L448.9,201.3 L450.7,202 L452.4,198.5 L455.4,197.7 Z" fill="#fff" stroke="#222" stroke-width="1.5" />
<path d="M457,220.4 L454.1,222.5 L451.3,221.1 L449.2,216 L450.7,215 L453.1,218.2 L455.4,217.9 Z" fill="#fff" stroke="#222" stroke-width="1.5" />
<path d="M452.2,195.6 Q453.8,196.8 453.6,199" fill="none" stroke="#555" stroke-width="1" />
<path d="M452.6,221 Q454.2,219.6 453.8,217.6" fill="none" stroke="#555" stroke-width="1" />
<path d="M459.6,192.6 Q453.6,197 453.3,208.3 Q453.6,219.6 459.8,224" fill="#fff" stroke="#222" stroke-width="1.3" />
<path d="M461.4,191.8 Q455.4,196.6 455.2,208.3 Q455.5,220 461.6,224.8" fill="none" stroke="#444" stroke-width="1" />
<line x1="454.3" y1="202.5" x2="454.3" y2="204.5" stroke="#666" stroke-width="0.9" />
<line x1="454.3" y1="211.5" x2="454.3" y2="213.5" stroke="#666" stroke-width="0.9" />
<ellipse cx="466" cy="208.2" rx="9.4" ry="17.3" fill="#fff" stroke="#222" stroke-width="1.5" transform="rotate(0.5 466 208.2)" />
<ellipse cx="466.3" cy="208.2" rx="8" ry="15.6" fill="none" stroke="#777" stroke-width="0.9" transform="rotate(0.5 466.3 208.2)" />
<path d="M471.1,196.8 L468.6,201.2 L466.1,200.5 L462.6,205.8 L463.7,208.2 L460.1,214.6 L462.6,219.5 L465.4,215.3 L467.9,215.7 L471.1,210 L470.4,207.9 L473.2,202.2 Z" fill="none" stroke="#444" stroke-width="1" stroke-linejoin="miter"/>
</g>
<g transform="translate(0 0)">
<path d="M363.2,228.2 L366.9,231.2 L367,241.4 L363.2,242.4 Z" fill="#fff" stroke="#111" stroke-width="1.2" />
<line x1="365.2" y1="230.4" x2="365.3" y2="241.6" stroke="#888" stroke-width="0.7" />
<path d="M357.4,228.6 Q357.5,227.3 358.8,227.3 L362.2,227.3 Q363.5,227.4 363.5,228.8 L363.7,242.4 L358.8,242.5 L357.3,241 Z" fill="#fff" stroke="#111" stroke-width="1.5" />
<line x1="359.2" y1="229" x2="359.3" y2="240.6" stroke="#999" stroke-width="0.7" />
<line x1="361.4" y1="229" x2="361.5" y2="241" stroke="#999" stroke-width="0.7" />
<line x1="360.2" y1="233" x2="360.8" y2="238" stroke="#bbb" stroke-width="0.9" />
</g>
<g transform="translate(0.6 1.4) rotate(-31.5 171.5 347.5)">
<path d="M164,343.4 L169.5,343.6 Q171.5,344.8 173.6,345 L180,345.2 Q182.4,345.6 182.4,347.5 Q182.4,349.4 180,349.8 L173.6,350 Q171.5,350.2 169.5,351.4 L164,351.6 Q161.2,350.4 161.2,347.5 Q161.2,344.6 164,343.4 Z" fill="#fff" stroke="#000" stroke-width="1.4" />
<ellipse cx="164" cy="347.5" rx="1.9" ry="4" fill="none" stroke="#000" stroke-width="1" />
<ellipse cx="166.2" cy="347.5" rx="1.9" ry="4" fill="none" stroke="#444" stroke-width="0.8" />
<path d="M169.5,343.6 Q171,347.5 169.5,351.4" fill="none" stroke="#000" stroke-width="0.9" />
<line x1="176.5" y1="346.2" x2="180" y2="346.4" stroke="#666" stroke-width="0.8" />
<line x1="177" y1="348.6" x2="180" y2="348.6" stroke="#666" stroke-width="0.8" />
</g>
<line x1="181.6" y1="341.4" x2="212" y2="316.8" stroke="#6e6e6e" stroke-width="1" stroke-dasharray="11 4.2 3.4 3.8" stroke-linecap="butt"/>
<line x1="282.8" y1="84" x2="273.2" y2="103.6" stroke="#000" stroke-width="0.9" />
<line x1="384.2" y1="155.4" x2="373.4" y2="178" stroke="#000" stroke-width="0.9" />
<line x1="483.8" y1="166.9" x2="467.6" y2="190.6" stroke="#000" stroke-width="0.9" />
<line x1="365.8" y1="242" x2="387.2" y2="274.9" stroke="#000" stroke-width="1.3" />
<line x1="174.9" y1="351.6" x2="186.9" y2="374.3" stroke="#000" stroke-width="1.3" />
<text x="284.4" y="72.6" font-size="14.2" text-anchor="start" fill="#000">1</text>
<text x="383" y="153.9" font-size="14.2" text-anchor="start" fill="#000">4</text>
<text x="482.4" y="164.3" font-size="14.2" text-anchor="start" fill="#000">3</text>
<text x="388" y="285" font-size="14.2" text-anchor="start" fill="#000">5</text>
<text x="186.9" y="385.5" font-size="14.2" text-anchor="start" fill="#000">6</text>
<text x="264" y="349" font-size="14.1" text-anchor="middle" fill="#000">(14 X 4.5)</text>
<text x="264" y="366.3" font-size="14.1" text-anchor="middle" fill="#000">(PY7)</text>
<rect x="262.3" y="535" width="77.2" height="7" fill="#fff"/>
<rect x="250.2" y="556.4" width="87.8" height="9" fill="#fff"/>
<line x1="262.8" y1="538.5" x2="373" y2="538.5" stroke="#6e6e6e" stroke-width="1.1" stroke-dasharray="17.8 4.2 3.4 3.8" stroke-linecap="butt"/>
<line x1="252.2" y1="560.9" x2="453.2" y2="560.9" stroke="#6e6e6e" stroke-width="1.1" stroke-dasharray="17.8 4.2 3.4 3.8" stroke-linecap="butt"/>
<line x1="316.8" y1="589.5" x2="367.2" y2="589.5" stroke="#6e6e6e" stroke-width="1.1" stroke-dasharray="17.8 4.2 3.4 3.8" stroke-linecap="butt"/>
<g transform="translate(10 355.4)">
<path d="M363.6,181.6 Q365.6,178.4 369.6,178.2 L377,178.4 Q381,179.6 381.9,184 Q382.3,188.6 380,190.8 Q376.6,192.6 371,192.7 Q366,192.4 363.8,189 Q362.6,185 363.6,181.6 Z" fill="#fff" stroke="#111" stroke-width="1.2" />
<ellipse cx="365.5" cy="185.4" rx="1.8" ry="4.4" fill="none" stroke="#222" stroke-width="0.9" />
<path d="M364.6,180.6 Q367,178.6 370.6,178.5" fill="none" stroke="#000" stroke-width="1.9" />
<path d="M367.6,192.3 Q370.4,192.9 373.6,192.5" fill="none" stroke="#000" stroke-width="1.9" />
<path d="M368,181.2 L368,188.4 L374.8,188.6 L374.8,181.2 Z" fill="none" stroke="#222" stroke-width="0.9" />
<line x1="368" y1="187.6" x2="374.8" y2="187.8" stroke="#222" stroke-width="0.9" />
<line x1="368" y1="181.2" x2="369.6" y2="179" stroke="#333" stroke-width="0.8" />
<line x1="374.8" y1="181.2" x2="376" y2="179.2" stroke="#333" stroke-width="0.8" />
<line x1="368" y1="188.4" x2="369.6" y2="191.6" stroke="#333" stroke-width="0.8" />
<line x1="374.8" y1="188.6" x2="375.6" y2="191.6" stroke="#333" stroke-width="0.8" />
<path d="M374.8,181.2 Q377.6,182.6 377.8,185.4 Q377.4,188 374.8,188.6" fill="none" stroke="#222" stroke-width="0.9" />
<ellipse cx="379.4" cy="185.8" rx="1.1" ry="2.2" fill="none" stroke="#444" stroke-width="0.8" />
</g>
<g transform="translate(10 355)">
<path d="M457,194 L453.4,194 L450.6,196.9 L448.9,201.3 L450.7,202 L452.4,198.5 L455.4,197.7 Z" fill="#fff" stroke="#222" stroke-width="1.5" />
<path d="M457,220.4 L454.1,222.5 L451.3,221.1 L449.2,216 L450.7,215 L453.1,218.2 L455.4,217.9 Z" fill="#fff" stroke="#222" stroke-width="1.5" />
<path d="M452.2,195.6 Q453.8,196.8 453.6,199" fill="none" stroke="#555" stroke-width="1" />
<path d="M452.6,221 Q454.2,219.6 453.8,217.6" fill="none" stroke="#555" stroke-width="1" />
<path d="M459.6,192.6 Q453.6,197 453.3,208.3 Q453.6,219.6 459.8,224" fill="#fff" stroke="#222" stroke-width="1.3" />
<path d="M461.4,191.8 Q455.4,196.6 455.2,208.3 Q455.5,220 461.6,224.8" fill="none" stroke="#444" stroke-width="1" />
<line x1="454.3" y1="202.5" x2="454.3" y2="204.5" stroke="#666" stroke-width="0.9" />
<line x1="454.3" y1="211.5" x2="454.3" y2="213.5" stroke="#666" stroke-width="0.9" />
<ellipse cx="466" cy="208.2" rx="9.4" ry="17.3" fill="#fff" stroke="#222" stroke-width="1.5" transform="rotate(0.5 466 208.2)" />
<ellipse cx="466.3" cy="208.2" rx="8" ry="15.6" fill="none" stroke="#777" stroke-width="0.9" transform="rotate(0.5 466.3 208.2)" />
<path d="M471.1,196.8 L468.6,201.2 L466.1,200.5 L462.6,205.8 L463.7,208.2 L460.1,214.6 L462.6,219.5 L465.4,215.3 L467.9,215.7 L471.1,210 L470.4,207.9 L473.2,202.2 Z" fill="none" stroke="#444" stroke-width="1" stroke-linejoin="miter"/>
</g>
<g transform="translate(10 355.4)">
<path d="M363.2,228.2 L366.9,231.2 L367,241.4 L363.2,242.4 Z" fill="#fff" stroke="#111" stroke-width="1.2" />
<line x1="365.2" y1="230.4" x2="365.3" y2="241.6" stroke="#888" stroke-width="0.7" />
<path d="M357.4,228.6 Q357.5,227.3 358.8,227.3 L362.2,227.3 Q363.5,227.4 363.5,228.8 L363.7,242.4 L358.8,242.5 L357.3,241 Z" fill="#fff" stroke="#111" stroke-width="1.5" />
<line x1="359.2" y1="229" x2="359.3" y2="240.6" stroke="#999" stroke-width="0.7" />
<line x1="361.4" y1="229" x2="361.5" y2="241" stroke="#999" stroke-width="0.7" />
<line x1="360.2" y1="233" x2="360.8" y2="238" stroke="#bbb" stroke-width="0.9" />
</g>
<g transform="translate(7.5 362.4) rotate(-31.5 171.5 347.5)">
<path d="M164,343.4 L169.5,343.6 Q171.5,344.8 173.6,345 L180,345.2 Q182.4,345.6 182.4,347.5 Q182.4,349.4 180,349.8 L173.6,350 Q171.5,350.2 169.5,351.4 L164,351.6 Q161.2,350.4 161.2,347.5 Q161.2,344.6 164,343.4 Z" fill="#fff" stroke="#000" stroke-width="1.4" />
<ellipse cx="164" cy="347.5" rx="1.9" ry="4" fill="none" stroke="#000" stroke-width="1" />
<ellipse cx="166.2" cy="347.5" rx="1.9" ry="4" fill="none" stroke="#444" stroke-width="0.8" />
<path d="M169.5,343.6 Q171,347.5 169.5,351.4" fill="none" stroke="#000" stroke-width="0.9" />
<line x1="176.5" y1="346.2" x2="180" y2="346.4" stroke="#666" stroke-width="0.8" />
<line x1="177" y1="348.6" x2="180" y2="348.6" stroke="#666" stroke-width="0.8" />
</g>
<line x1="189.2" y1="703.6" x2="218.9" y2="678.9" stroke="#6e6e6e" stroke-width="1" stroke-dasharray="11 4.2 3.4 3.8" stroke-linecap="butt"/>
<line x1="303.3" y1="429.4" x2="288.4" y2="458.4" stroke="#000" stroke-width="0.9" />
<line x1="394.2" y1="510.8" x2="383.4" y2="533.4" stroke="#000" stroke-width="0.9" />
<line x1="493.8" y1="522.3" x2="477.6" y2="546" stroke="#000" stroke-width="0.9" />
<line x1="375.8" y1="597.4" x2="397.2" y2="630.3" stroke="#000" stroke-width="1.3" />
<line x1="182.6" y1="714" x2="195.3" y2="735.8" stroke="#000" stroke-width="1.3" />
<text x="300.4" y="427.1" font-size="14.2" text-anchor="start" fill="#000">2</text>
<text x="393" y="508.8" font-size="14.2" text-anchor="start" fill="#000">4</text>
<text x="492.4" y="519.7" font-size="14.2" text-anchor="start" fill="#000">3</text>
<text x="398" y="640.4" font-size="14.2" text-anchor="start" fill="#000">5</text>
<text x="193.6" y="747.2" font-size="14.2" text-anchor="start" fill="#000">6</text>
<text x="275.6" y="716.7" font-size="14.1" text-anchor="middle" fill="#000">(15 X 5)</text>
<text x="275.8" y="732.6" font-size="14.1" text-anchor="middle" fill="#000">(WR2)</text>
<text x="576" y="29.2" font-size="11.5" text-anchor="start" fill="#000">KC05-013 09/28/2009</text>
</svg>
</body></html>
